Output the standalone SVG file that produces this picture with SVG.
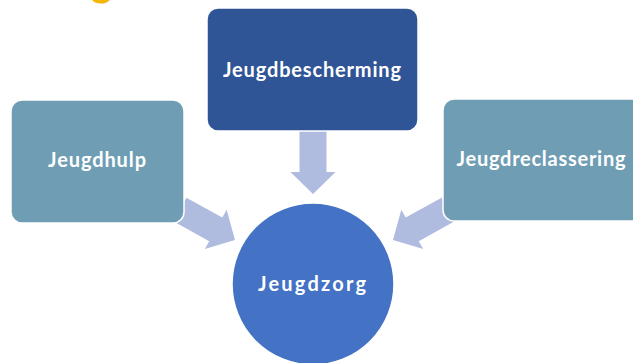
<svg xmlns="http://www.w3.org/2000/svg" width="633" height="363" viewBox="0 0 633 363">
  <style>
    .lbl { font-family: Lato, "Open Sans", "Liberation Sans", sans-serif; font-weight: bold; font-size: 20px; fill: #ffffff; text-anchor: middle; }
    .side { fill: #6E9DB4; stroke: #ffffff; stroke-width: 1.5; }
    .arrow { fill: #B0BCDF; }
  </style>
  <defs>
    <path id="arr" d="M -63 -13.5 L -22 -13.5 L -22 -22.5 L 0 0 L -22 22.5 L -22 13.5 L -63 13.5 Z"/>
  </defs>
  <rect width="633" height="363" fill="#ffffff"/>
  <text x="91" y="-4" font-family="Lato, 'Liberation Sans', sans-serif" font-weight="bold" font-size="40" fill="#F2B700">g</text>
  <g id="connectors">
    <use href="#arr" class="arrow" transform="translate(313,194) rotate(90)"/>
    <use href="#arr" class="arrow" transform="translate(235,240) rotate(29)"/>
    <use href="#arr" class="arrow" transform="translate(393,240) rotate(151)"/>
  </g>
  <g id="jeugdbescherming">
    <rect x="207" y="8" width="211" height="123" rx="11" fill="#2F5597" stroke="#ffffff" stroke-width="1.5"/>
    <text class="lbl" x="312" y="77" textLength="178" lengthAdjust="spacing">Jeugdbescherming</text>
  </g>
  <g id="jeugdhulp">
    <rect class="side" x="11" y="100" width="173" height="123" rx="11"/>
    <text class="lbl" x="97" y="167" textLength="98" lengthAdjust="spacing">Jeugdhulp</text>
  </g>
  <g id="jeugdreclassering">
    <rect class="side" x="443" y="99" width="200" height="122" rx="11"/>
    <text class="lbl" x="541" y="166" textLength="169" lengthAdjust="spacing">Jeugdreclassering</text>
  </g>
  <g id="jeugdzorg">
    <circle cx="313" cy="284" r="81" fill="#4472C4" stroke="#ffffff" stroke-width="1.5"/>
    <text class="lbl" x="312" y="291" textLength="108" lengthAdjust="spacing">Jeugdzorg</text>
  </g>
</svg>
